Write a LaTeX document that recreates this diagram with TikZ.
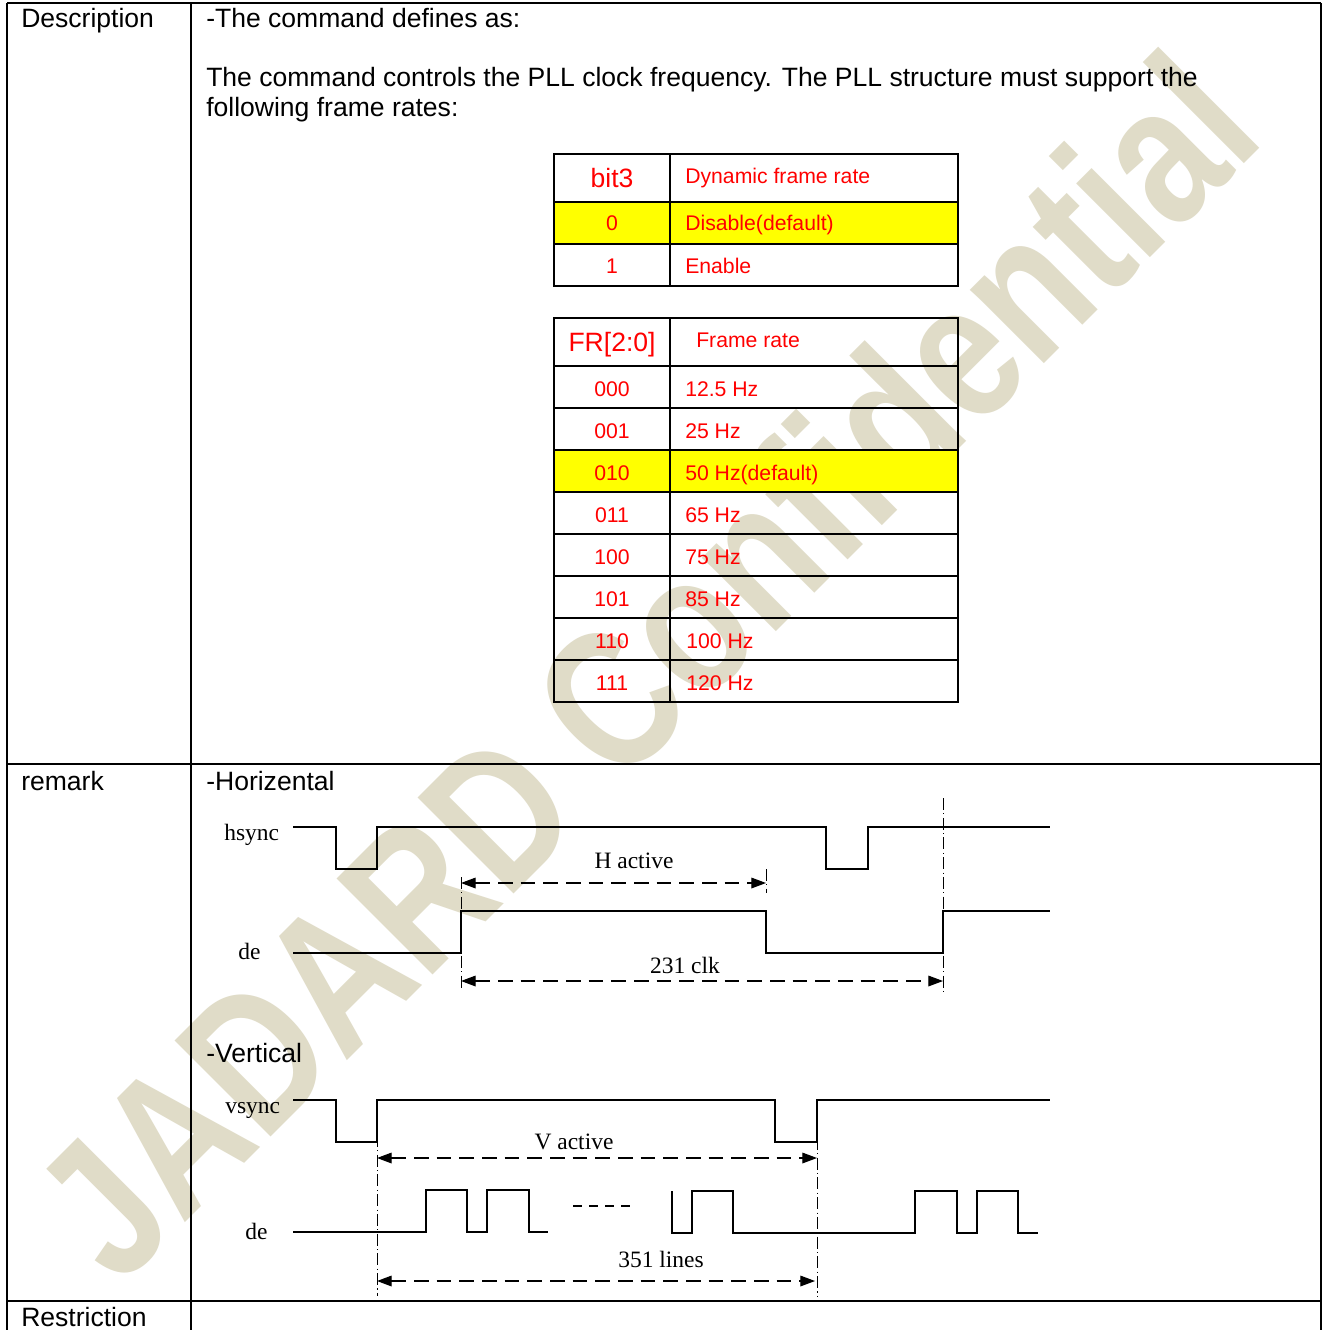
\documentclass[tikz,border=0pt]{standalone}
\usepackage{fontspec}
\setmainfont{Liberation Sans}
\newfontfamily\tmsfont{Liberation Serif}
\usetikzlibrary{arrows.meta}
\definecolor{wmcol}{RGB}{224,220,200}
\definecolor{hl}{RGB}{255,255,0}
\begin{document}
\begin{tikzpicture}[x=0.75pt,y=-0.75pt,
  bigtxt/.style={font=\fontsize{19.9pt}{24pt}\selectfont, inner sep=0pt, anchor=base west},
  redbig/.style={font=\fontsize{19.9pt}{24pt}\selectfont, text=red, inner sep=0pt, anchor=base},
  redsm/.style={font=\fontsize{15.9pt}{19pt}\selectfont, text=red, inner sep=0pt, anchor=base west},
  redsmc/.style={redsm, anchor=base},
  tlabel/.style={font=\tmsfont\fontsize{17.6pt}{21pt}\selectfont, inner sep=0pt, anchor=base west},
  tlabelc/.style={tlabel, anchor=base},
  wmstyle/.style={font=\fontsize{148pt}{152pt}\selectfont\bfseries, text=wmcol, inner sep=0pt},
  outerline/.style={line width=1.5pt},
  gridline/.style={line width=1.6pt},
  wave/.style={line width=1pt},
  dimline/.style={line width=0.9pt, dash pattern=on 11pt off 6pt,
     {Triangle[length=11pt,width=8pt]}-{Triangle[length=11pt,width=8pt]}},
  guide/.style={line width=0.7pt, dash pattern=on 9pt off 2.5pt on 0.8pt off 2.5pt},
  dotsline/.style={line width=0.9pt, dash pattern=on 6.75pt off 5.25pt},
]
\useasboundingbox (0,0) rectangle (1323,1330);
\fill[white] (0,0) rectangle (1323,1330);

% watermark
\node[wmstyle, rotate=45, anchor=base east] (wm) at (1268,140) {\scalebox{0.805}[1]{JADARD Confidential}};

% highlighted rows
\fill[hl] (554,202) rectangle (958,244);
\fill[hl] (554,450) rectangle (958,492);

% outer table
\draw[outerline] (7,3) -- (1321,3);
\draw[outerline] (7,764) -- (1321,764);
\draw[outerline] (7,1301) -- (1321,1301);
\draw[outerline] (7,3) -- (7,1331);
\draw[outerline] (191,3) -- (191,1331);
\draw[outerline] (1321,3) -- (1321,1331);

% table 1
\draw[gridline] (554,154) rectangle (958,286);
\draw[gridline] (554,202) -- (958,202);
\draw[gridline] (554,244) -- (958,244);
\draw[gridline] (670,154) -- (670,286);

% table 2
\draw[gridline] (554,318) rectangle (958,702);
\foreach \yy in {366,408,450,492,534,576,618,660}
  \draw[gridline] (554,\yy) -- (958,\yy);
\draw[gridline] (670,318) -- (670,702);

% texts
\node[bigtxt] (desc) at (21,28) {Description};
\node[bigtxt] (def) at (206,28) {-The command defines as:};
\node[bigtxt] (l1) at (206,87) {The command controls the PLL clock frequency. The PLL structure must support the};
\node[bigtxt] (l2) at (206,117) {following frame rates:};
\node[bigtxt] (rem) at (21,790) {remark};
\node[bigtxt] (hor) at (206,790) {-Horizental};
\node[bigtxt] (ver) at (206,1062) {-Vertical};
\node[bigtxt] (res) at (21,1326) {Restriction};

% table 1 text
\node[redbig] (t1h1) at (612,188) {bit3};
\node[redsm] (t1h2) at (685,184) {Dynamic frame rate};
\node[redsmc] (t1a) at (612,231) {0};
\node[redsm] (t1b) at (685,231) {Disable(default)};
\node[redsmc] (t1c) at (612,273) {1};
\node[redsm] (t1d) at (685,273) {Enable};

% table 2 text
\node[redbig] (t2h1) at (612,351) {FR[2:0]};
\node[redsm] (t2h2) at (696,347) {Frame rate};
\node[redsmc] (r0a) at (612,396) {000};
\node[redsm]  (r0b) at (685,396) {12.5 Hz};
\node[redsmc] (r1a) at (612,438) {001};
\node[redsm]  (r1b) at (685,438) {25 Hz};
\node[redsmc] (r2a) at (612,480) {010};
\node[redsm]  (r2b) at (685,480) {50 Hz(default)};
\node[redsmc] (r3a) at (612,522) {011};
\node[redsm]  (r3b) at (685,522) {65 Hz};
\node[redsmc] (r4a) at (612,564) {100};
\node[redsm]  (r4b) at (685,564) {75 Hz};
\node[redsmc] (r5a) at (612,606) {101};
\node[redsm]  (r5b) at (685,606) {85 Hz};
\node[redsmc] (r6a) at (612,648) {110};
\node[redsm]  (r6b) at (686,648) {100 Hz};
\node[redsmc] (r7a) at (612,690) {111};
\node[redsm]  (r7b) at (686,690) {120 Hz};

% ---- horizontal timing ----
\node[tlabel] (hs) at (224,840) {hsync};
\node[tlabel] (hde) at (238,959) {de};
\draw[wave] (293,827) -- (336,827) -- (336,869) -- (377,869) -- (377,827) -- (826,827)
  -- (826,869) -- (868,869) -- (868,827) -- (1050,827);
\draw[wave] (293,953) -- (461,953) -- (461,911) -- (766,911) -- (766,953) -- (943,953)
  -- (943,911) -- (1050,911);
\coordinate (hg1t) at (461,877); \coordinate (hg1b) at (461,990);
\coordinate (hg2t) at (766,869); \coordinate (hg2b) at (766,893);
\coordinate (hg3t) at (943,798); \coordinate (hg3b) at (943,995);
\draw[guide] (hg1t) -- (hg1b);
\draw[guide] (hg2t) -- (hg2b);
\draw[guide] (hg3t) -- (hg3b);
\coordinate (ha1) at (461,883); \coordinate (ha2) at (766,883);
\coordinate (hc1) at (461,981); \coordinate (hc2) at (943,981);
\draw[dimline] (ha1) -- (ha2);
\draw[dimline] (hc1) -- (hc2);
\node[tlabelc] (hact) at (634,868) {H active};
\node[tlabelc] (hclk) at (685,973) {231 clk};

% ---- vertical timing ----
\node[tlabel] (vs) at (225,1113) {vsync};
\node[tlabel] (vde) at (245,1239) {de};
\draw[wave] (293,1100) -- (336,1100) -- (336,1142) -- (377,1142) -- (377,1100) -- (775,1100)
  -- (775,1142) -- (817,1142) -- (817,1100) -- (1050,1100);
\draw[wave] (293,1232) -- (426,1232) -- (426,1190) -- (467,1190) -- (467,1232) -- (487,1232)
  -- (487,1190) -- (529,1190) -- (529,1232) -- (548,1232);
\coordinate (dd1) at (573,1206); \coordinate (dd2) at (631,1206);
\draw[dotsline] (dd1) -- (dd2);
\draw[wave] (672,1191) -- (672,1233) -- (692,1233) -- (692,1191) -- (733,1191) -- (733,1233)
  -- (915,1233) -- (915,1191) -- (957,1191) -- (957,1233) -- (977,1233) -- (977,1191)
  -- (1018,1191) -- (1018,1233) -- (1038,1233);
\coordinate (vg1t) at (377,1135); \coordinate (vg1b) at (377,1296);
\coordinate (vg2t) at (817,1138); \coordinate (vg2b) at (817,1296);
\draw[guide] (vg1t) -- (vg1b);
\draw[guide] (vg2t) -- (vg2b);
\coordinate (va1) at (377,1158); \coordinate (va2) at (817,1158);
\coordinate (vl1) at (377,1281); \coordinate (vl2) at (815,1281);
\draw[dimline] (va1) -- (va2);
\draw[dimline] (vl1) -- (vl2);
\node[tlabelc] (vact) at (574,1149) {V active};
\node[tlabelc] (vlin) at (661,1267) {351 lines};
\end{tikzpicture}
\end{document}
